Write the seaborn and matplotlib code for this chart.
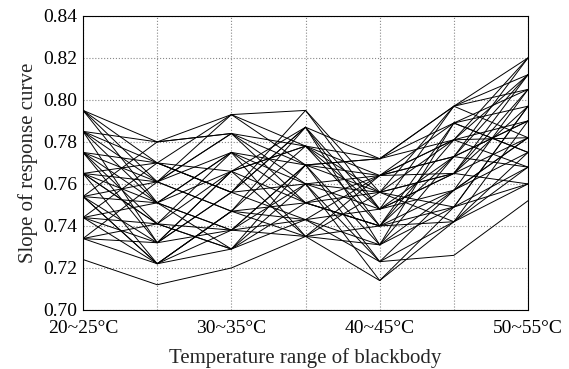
import matplotlib
matplotlib.use("Agg")
import matplotlib.pyplot as plt
import seaborn as sns
import pandas as pd

positions = [0, 1, 2, 3, 4, 5, 6]
tick_labels = ["20~25°C", "", "30~35°C", "", "40~45°C", "", "50~55°C"]

line01 = [0.724, 0.712, 0.720, 0.735, 0.714, 0.742, 0.760]
line02 = [0.734, 0.722, 0.729, 0.743, 0.723, 0.726, 0.752]
line03 = [0.734, 0.732, 0.738, 0.735, 0.731, 0.749, 0.768]
line04 = [0.744, 0.722, 0.747, 0.751, 0.740, 0.742, 0.775]
line05 = [0.744, 0.741, 0.729, 0.760, 0.723, 0.757, 0.782]
line06 = [0.754, 0.732, 0.756, 0.743, 0.748, 0.765, 0.760]
line07 = [0.754, 0.751, 0.738, 0.769, 0.731, 0.773, 0.790]
line08 = [0.765, 0.741, 0.766, 0.751, 0.756, 0.781, 0.768]
line09 = [0.765, 0.761, 0.747, 0.778, 0.740, 0.749, 0.797]
line10 = [0.775, 0.751, 0.775, 0.760, 0.764, 0.789, 0.775]
line11 = [0.775, 0.770, 0.756, 0.787, 0.748, 0.757, 0.805]
line12 = [0.785, 0.761, 0.784, 0.769, 0.772, 0.797, 0.782]
line13 = [0.785, 0.780, 0.793, 0.795, 0.756, 0.765, 0.812]
line14 = [0.795, 0.770, 0.766, 0.778, 0.764, 0.773, 0.820]
line15 = [0.795, 0.751, 0.775, 0.735, 0.740, 0.781, 0.790]
line16 = [0.785, 0.732, 0.756, 0.787, 0.731, 0.789, 0.797]
line17 = [0.775, 0.741, 0.738, 0.769, 0.772, 0.797, 0.805]
line18 = [0.765, 0.722, 0.747, 0.743, 0.764, 0.781, 0.812]
line19 = [0.754, 0.761, 0.784, 0.760, 0.748, 0.773, 0.790]
line20 = [0.744, 0.751, 0.766, 0.778, 0.756, 0.765, 0.782]
line21 = [0.734, 0.741, 0.775, 0.751, 0.740, 0.757, 0.775]
line22 = [0.765, 0.770, 0.793, 0.769, 0.723, 0.742, 0.768]
line23 = [0.754, 0.722, 0.738, 0.760, 0.714, 0.749, 0.760]
line24 = [0.775, 0.732, 0.766, 0.735, 0.756, 0.749, 0.797]
line25 = [0.785, 0.751, 0.729, 0.751, 0.764, 0.765, 0.805]
line26 = [0.795, 0.761, 0.747, 0.787, 0.740, 0.789, 0.775]
line27 = [0.744, 0.770, 0.756, 0.795, 0.748, 0.797, 0.812]
line28 = [0.754, 0.780, 0.784, 0.778, 0.772, 0.781, 0.820]
line29 = [0.765, 0.751, 0.738, 0.743, 0.731, 0.757, 0.782]
line30 = [0.734, 0.761, 0.775, 0.769, 0.764, 0.773, 0.768]
line31 = [0.785, 0.770, 0.756, 0.760, 0.756, 0.742, 0.790]
line32 = [0.775, 0.761, 0.793, 0.778, 0.748, 0.765, 0.797]
line33 = [0.744, 0.732, 0.766, 0.787, 0.772, 0.789, 0.805]
line34 = [0.795, 0.780, 0.784, 0.751, 0.740, 0.773, 0.812]
line35 = [0.765, 0.741, 0.729, 0.769, 0.756, 0.797, 0.820]
line36 = [0.754, 0.722, 0.747, 0.735, 0.764, 0.781, 0.782]

all_lines = [line01, line02, line03, line04, line05, line06, line07, line08, line09,
             line10, line11, line12, line13, line14, line15, line16, line17, line18,
             line19, line20, line21, line22, line23, line24, line25, line26, line27,
             line28, line29, line30, line31, line32, line33, line34, line35, line36]

y_ticks = [0.70, 0.72, 0.74, 0.76, 0.78, 0.80, 0.82, 0.84]

rows = []
for i, vals in enumerate(all_lines):
    for p, v in zip(positions, vals):
        rows.append({"line": i, "pos": p, "value": v})
df = pd.DataFrame(rows)

sns.set_style("white")
plt.rcParams["font.family"] = ["Liberation Serif", "DejaVu Serif"]

fig = plt.figure(figsize=(5.69, 3.69), dpi=100)
ax = fig.add_axes([0.146, 0.160, 0.782, 0.797])

sns.lineplot(data=df, x="pos", y="value", units="line", estimator=None,
             color="black", linewidth=0.7, ax=ax, legend=False)

ax.set_xlim(0, 6)
ax.set_ylim(0.70, 0.84)
ax.set_xticks(positions)
ax.set_xticklabels(tick_labels, fontsize=14)
ax.set_yticks(y_ticks)
ax.set_yticklabels([f"{v:.2f}" for v in y_ticks], fontsize=14)
ax.grid(True, linestyle=":", color="#888888", linewidth=0.8)
ax.tick_params(direction="in", length=3, width=0.8, colors="black")
ax.tick_params(axis="x", pad=7)
ax.tick_params(axis="y", pad=4)
for s in ax.spines.values():
    s.set_color("black")
    s.set_linewidth(0.8)
ax.set_xlabel("Temperature range of blackbody", fontsize=15, labelpad=8)
ax.set_ylabel("Slope of response curve", fontsize=15, labelpad=4)

fig.savefig("out.png", dpi=100)
